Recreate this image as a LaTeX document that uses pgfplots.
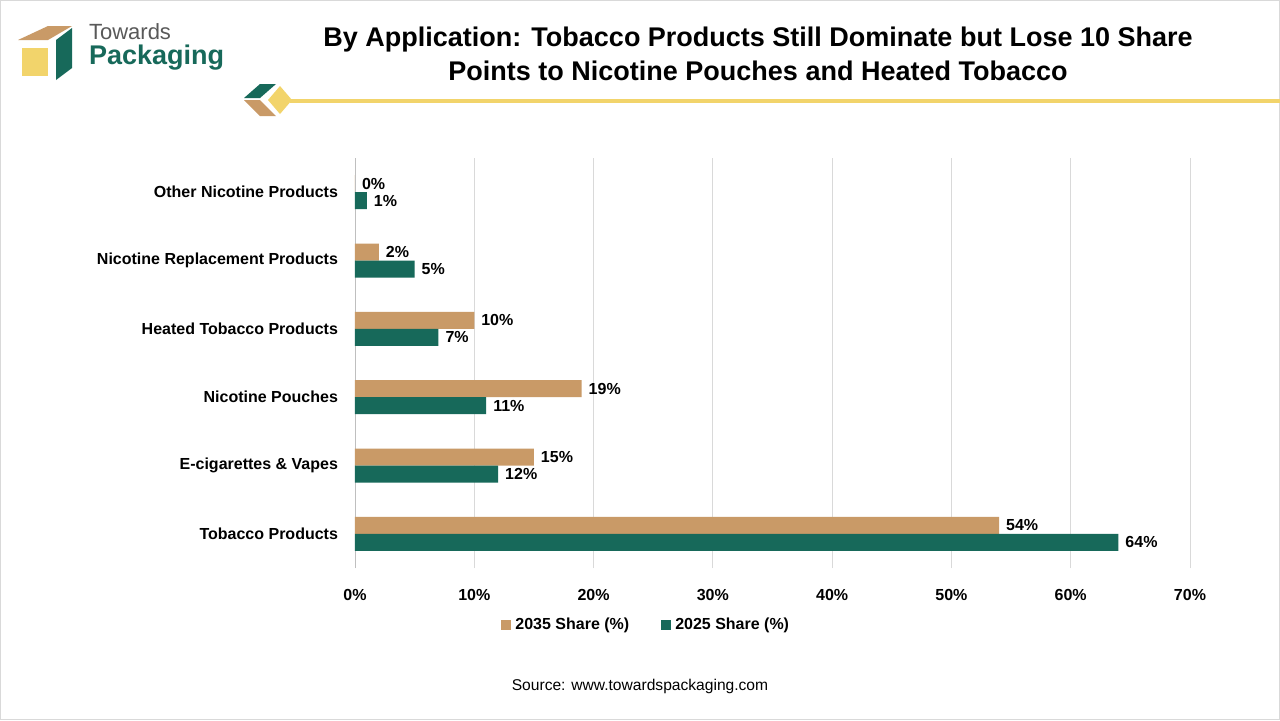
\documentclass[border=0pt]{standalone}
\usepackage{pgfplots}
\pgfplotsset{compat=1.18}
\usepackage{fontspec}
\setmainfont{Liberation Sans}
\definecolor{tan}{HTML}{C99A67}
\definecolor{dgreen}{HTML}{17695A}
\definecolor{ylw}{HTML}{F2D46B}
\begin{document}
\begin{tikzpicture}
\fill[white] (0,0) rectangle (640pt,-360pt);
\draw[black!15] (0.3pt,-0.3pt) rectangle (639.7pt,-359.7pt);
% logo
\fill[ylw] (11pt,-24pt) rectangle (24pt,-38pt);
\fill[tan] (9pt,-20pt) -- (24pt,-13pt) -- (36pt,-13pt) -- (24pt,-20pt) -- cycle;
\fill[dgreen] (28pt,-20pt) -- (36pt,-14pt) -- (36pt,-34pt) -- (28pt,-40pt) -- cycle;
\node[anchor=west,text=black!65,font=\fontsize{11}{12}\selectfont] at (41pt,-16pt) {Towards};
\node[anchor=west,text=dgreen,font=\bfseries\fontsize{13.5}{14}\selectfont] at (41pt,-29pt) {Packaging};
% decoration
\fill[dgreen] (122pt,-49pt) -- (130pt,-42pt) -- (138pt,-42pt) -- (130pt,-49pt) -- cycle;
\fill[tan] (122pt,-50pt) -- (130pt,-50pt) -- (138pt,-58pt) -- (130pt,-58pt) -- cycle;
\fill[ylw] (140pt,-43pt) -- (146pt,-50pt) -- (140pt,-57pt) -- (134pt,-50pt) -- cycle;
\fill[ylw] (145pt,-49.6pt) rectangle (640pt,-51.6pt);
% title
\node[align=center,font=\bfseries\fontsize{13.5}{17}\selectfont] at (379pt,-27pt) {By Application: Tobacco Products Still Dominate but Lose 10 Share\\Points to Nicotine Pouches and Heated Tobacco};
\node[font=\fontsize{7.8}{9}\selectfont] at (320pt,-343pt) {Source: www.towardspackaging.com};
\begin{axis}[at={(177.5pt,-284pt)},anchor=south west,scale only axis,
 width=417.5pt,height=205pt,xmin=0,xmax=70,ymin=-0.5,ymax=5.5,
 xtick={0,10,...,70},xticklabel={\pgfmathprintnumber{\tick}\%},
 /pgf/number format/assume math mode=true,
 ytick={0,...,5},yticklabels={Tobacco Products,E-cigarettes \& Vapes,Nicotine Pouches,Heated Tobacco Products,Nicotine Replacement Products,Other Nicotine Products},
 tick label style={font=\bfseries\fontsize{8}{9}\selectfont},
 xmajorgrids,grid style={black!15},axis line style={draw=none},major tick length=0pt,
 xticklabel style={yshift=-7pt},yticklabel style={xshift=-5pt},
 xbar,bar width=8.5pt,
 nodes near coords={\pgfmathprintnumber{\pgfplotspointmeta}\%},
 nodes near coords style={font=\bfseries\fontsize{8}{9}\selectfont,black},
 legend style={at={(0.35,-0.1)},anchor=north,draw=none,legend columns=2,font=\bfseries\fontsize{8}{9}\selectfont,/tikz/every even column/.append style={column sep=14pt}},
 legend image code/.code={\fill[#1] (0pt,-2.5pt) rectangle (5pt,2.5pt);},
]
\draw[black!25] (axis cs:0,-0.5) -- (axis cs:0,5.5);
\addplot[fill=tan,draw=none,bar shift=4.25pt] coordinates {(54,0) (15,1) (19,2) (10,3) (2,4) (0,5)};
\addplot[fill=dgreen,draw=none,bar shift=-4.25pt] coordinates {(64,0) (12,1) (11,2) (7,3) (5,4) (1,5)};
\legend{2035 Share (\%),2025 Share (\%)}
\end{axis}
\end{tikzpicture}
\end{document}
